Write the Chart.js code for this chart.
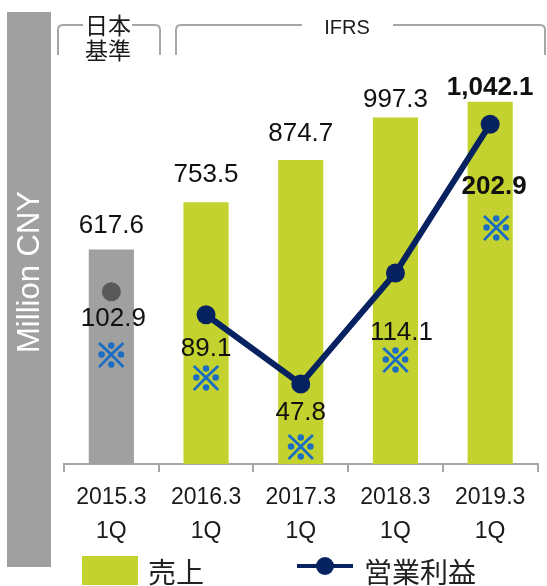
<!DOCTYPE html>
<html>
<head>
<meta charset="utf-8">
<script src="https://cdn.jsdelivr.net/npm/chart.js@4.4.0/dist/chart.umd.min.js"></script>
<style>
  html, body { margin: 0; padding: 0; background: #fff; }
  canvas { display: block; }
</style>
</head>
<body>
<canvas id="myChart" width="547" height="586"></canvas>
<script>
// Data
var periods = [["2015.3", "1Q"], ["2016.3", "1Q"], ["2017.3", "1Q"], ["2018.3", "1Q"], ["2019.3", "1Q"]];
var sales = [617.6, 753.5, 874.7, 997.3, 1042.1];          // 売上
var operatingProfit = [102.9, 89.1, 47.8, 114.1, 202.9];   // 営業利益

// Colours
var GREEN = "#c3d22e";
var GREY = "#a0a0a0";
var NAVY = "#072261";
var DOT_GREY = "#595959";
var MARK_BLUE = "#1b6ec2";
var LINE_GREY = "#a6a6a6";
var NUM_FONT = "'Liberation Sans', Arial, sans-serif";
var JP_FONT = "'Noto Sans CJK JP', 'Noto Sans', sans-serif";

// label placement (pixels relative to bar top / line point)
var barLabelGap = [24, 27, 26, 18, 14];
var profitLabelGap = [27, 34, 29, 60, 63];
var profitLabelShift = [2, 0, 0, 6, 4];
var markGap = [63, 63, 63, 87, 104];
var markShift = [0, 0, 0, 0, 6];

function fmt(v) {
    return v.toLocaleString("en-US", { minimumFractionDigits: 1, maximumFractionDigits: 1 });
}

// draws the side box, the header brackets, value labels and the legend
var overlay = {
    id: "overlay",
    afterDraw: function (chart) {
        var c = chart.ctx;
        var bars = chart.getDatasetMeta(0).data;
        var pts = chart.getDatasetMeta(1).data;
        c.save();

        // side box with unit
        c.fillStyle = GREY;
        c.fillRect(7, 12, 44, 555);
        c.save();
        c.translate(30, 272);
        c.rotate(-Math.PI / 2);
        c.fillStyle = "#fff";
        c.font = "31px " + NUM_FONT;
        c.textAlign = "center";
        c.textBaseline = "middle";
        c.fillText("Million CNY", 0, 0);
        c.restore();

        // header brackets
        c.strokeStyle = LINE_GREY;
        c.lineWidth = 2;
        function bracket(x1, x2, g1, g2) {
            c.beginPath();
            c.moveTo(x1, 55);
            c.lineTo(x1, 30);
            c.quadraticCurveTo(x1, 25, x1 + 5, 25);
            c.lineTo(g1, 25);
            c.moveTo(g2, 25);
            c.lineTo(x2 - 5, 25);
            c.quadraticCurveTo(x2, 25, x2, 30);
            c.lineTo(x2, 55);
            c.stroke();
        }
        bracket(58, 160, 83, 132);
        bracket(176, 545, 302, 393);
        c.fillStyle = "#1a1a1a";
        c.textAlign = "center";
        c.textBaseline = "middle";
        c.font = "23px " + JP_FONT;
        c.fillText("日本", 108, 25);
        c.fillText("基準", 108, 50);
        c.font = "20px " + NUM_FONT;
        c.fillText("IFRS", 347, 28);

        // bar values
        bars.forEach(function (b, i) {
            c.font = (i === 4 ? "bold " : "") + "26px " + NUM_FONT;
            c.fillStyle = "#111";
            c.fillText(fmt(sales[i]), b.x, b.y - barLabelGap[i]);
        });

        // profit values and marks
        pts.forEach(function (p, i) {
            c.font = (i === 4 ? "bold " : "") + "26px " + NUM_FONT;
            c.fillStyle = "#111";
            c.fillText(fmt(operatingProfit[i]), p.x + profitLabelShift[i], p.y + profitLabelGap[i]);
            c.font = "bold 34px " + JP_FONT;
            c.fillStyle = MARK_BLUE;
            c.strokeStyle = MARK_BLUE;
            c.lineWidth = 1.4;
            c.fillText("※", p.x + markShift[i], p.y + markGap[i]);
            c.strokeText("※", p.x + markShift[i], p.y + markGap[i]);
        });

        // legend
        c.fillStyle = GREEN;
        c.fillRect(82, 556, 56, 29);
        c.fillStyle = "#222";
        c.textAlign = "left";
        c.font = "28px " + JP_FONT;
        c.fillText("売上", 148, 572);
        c.fillText("営業利益", 364, 572);
        c.strokeStyle = NAVY;
        c.lineWidth = 4;
        c.beginPath();
        c.moveTo(297, 566);
        c.lineTo(353, 566);
        c.stroke();
        c.fillStyle = NAVY;
        c.beginPath();
        c.arc(325, 566, 9, 0, Math.PI * 2);
        c.fill();

        c.restore();
    }
};

var ctx = document.getElementById("myChart").getContext("2d");
var myChart = new Chart(ctx, {
    type: "bar",
    data: {
        labels: periods,
        datasets: [
            {
                label: "売上",
                data: sales,
                yAxisID: "y",
                order: 2,
                backgroundColor: [GREY, GREEN, GREEN, GREEN, GREEN],
                barPercentage: 0.477,
                categoryPercentage: 1
            },
            {
                label: "営業利益",
                type: "line",
                data: operatingProfit,
                yAxisID: "y2",
                order: 1,
                borderColor: NAVY,
                borderWidth: 6,
                // the 2015.3 point (Japanese GAAP) is not joined to the IFRS line
                segment: {
                    borderColor: function (s) { return s.p0DataIndex === 0 ? "rgba(0,0,0,0)" : NAVY; }
                },
                pointRadius: 9.5,
                pointHoverRadius: 9.5,
                pointBorderWidth: 0,
                pointBackgroundColor: [DOT_GREY, NAVY, NAVY, NAVY, NAVY],
                tension: 0
            }
        ]
    },
    options: {
        responsive: false,
        animation: false,
        devicePixelRatio: 1,
        layout: { padding: { left: 64, right: 1, top: 47, bottom: 36 } },
        plugins: {
            legend: { display: false },
            tooltip: { enabled: false }
        },
        scales: {
            x: {
                grid: {
                    display: true,
                    drawOnChartArea: false,
                    tickLength: 8,
                    color: LINE_GREY,
                    lineWidth: 2,
                    offset: true
                },
                border: { display: true, color: LINE_GREY, width: 2 },
                ticks: {
                    color: "#1a1a1a",
                    padding: 8,
                    font: { size: 23, family: NUM_FONT, lineHeight: 1.5 }
                },
                afterFit: function (s) { s.height = 86; }
            },
            y: { display: false, min: 0, max: 1200 },
            y2: { display: false, min: 0, max: 249 }
        }
    },
    plugins: [overlay]
});
</script>
</body>
</html>
